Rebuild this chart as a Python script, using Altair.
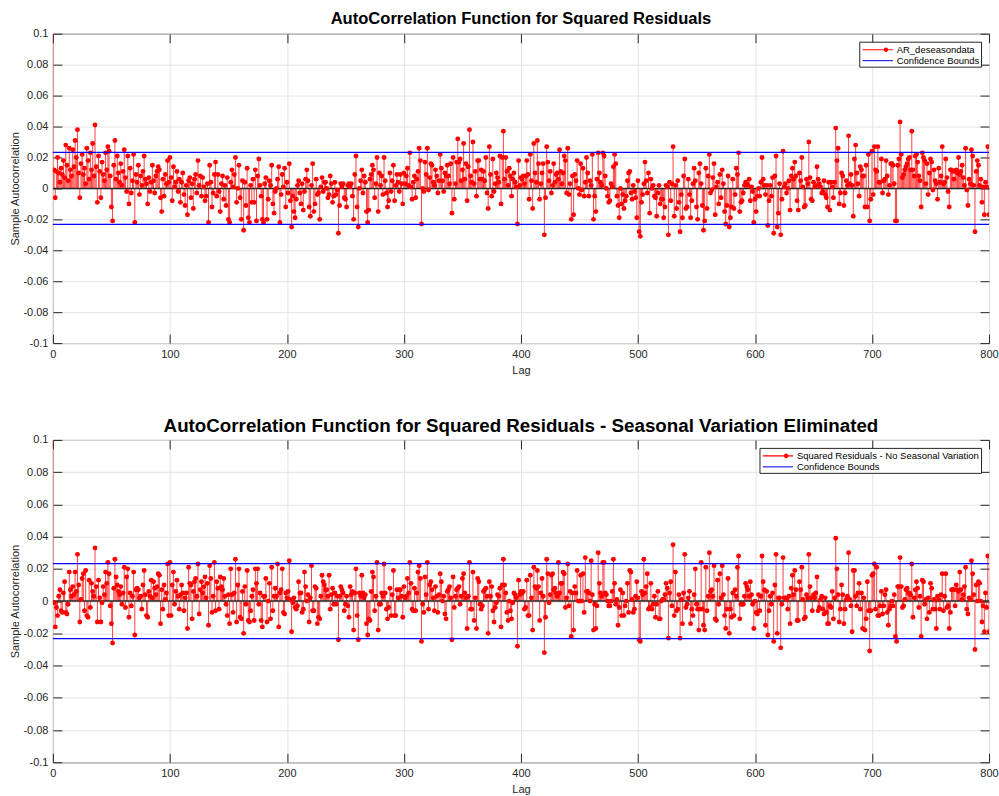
import altair as alt
import pandas as pd

# ---------------- data ----------------
lag_max = 800
x_ticks = [0, 100, 200, 300, 400, 500, 600, 700, 800]
y_ticks = [-0.1, -0.08, -0.06, -0.04, -0.02, 0, 0.02, 0.04, 0.06, 0.08, 0.1]
y_min, y_max = -0.1, 0.1
conf_bounds = [0.0233, -0.0233]
baseline = [0.0]
lag0_value = 1.0  # autocorrelation at lag 0 (clipped at the top)

series1 = "AR_deseasondata"
series2 = "Squared Residuals - No Seasonal Variation"
bound_name = "Confidence Bounds"
title1 = "AutoCorrelation Function for Squared Residuals"
title2 = "AutoCorrelation Function for Squared Residuals - Seasonal Variation Eliminated"

# sample autocorrelation, lags 1..800, in thousandths
acf1_milli = [
    12, -6, 11, 20, 10, 4, 13, 9, 18, 7, 28, 15, 5, 26, 12, 8, 25, 14, 31, 20,
    38, 10, -6, 16, 22, 9, 13, 3, 26, 18, 6, 23, 12, 29, 8, 41, 14, -9, 21, 11,
    -6, 17, 9, 5, 23, 12, 27, 24, 8, -12, -21, 15, 31, 6, 21, 10, 4, 16, 2, 11,
    25, 7, -2, 21, -10, 13, -3, 5, 22, -22, 9, 4, 15, -4, 8, 2, 11, 21, 6, 3,
    -10, 7, -2, 4, 15, 5, -3, 8, 11, 14, 12, -6, -15, 6, -5, 9, 3, 18, 4, 20,
    7, -8, 14, 1, 4, 11, -2, 6, -9, 4, 10, -4, -11, 2, -17, 5, 7, -6, 3, -13,
    6, 9, -3, 18, 2, 8, -5, 7, 1, -8, -5, 3, -22, 15, 4, -12, -3, 9, 17, -5,
    9, -2, -15, 3, 8, -7, 2, -11, 7, -20, -22, 4, 12, 1, 9, 20, -9, 0, 15, -6,
    -20, 5, -27, 4, -11, 13, -19, -22, 2, -9, 6, -9, 12, -21, 8, 19, 2, -5, -20, -22,
    3, 7, -20, -7, 5, 2, 15, -10, -16, -2, 0, 6, 14, -22, -4, 9, 1, 13, -12, 4,
    -3, 16, -8, -25, -5, -15, -19, -7, 2, 5, -3, -10, 3, -14, -2, 6, 12, 5, -12, -18,
    2, 16, -15, -10, 6, -4, -3, -20, 1, 7, -2, 4, 4, 0, -6, -4, 8, 3, -9, -5,
    4, -4, -1, -29, -11, 3, 1, 3, -6, -7, -12, 2, 3, 1, 3, -5, -20, 9, 21, -12,
    -25, 0, 5, 12, -3, 8, 4, -15, -22, -14, 6, 9, 15, 12, -6, 3, 20, -15, 10, 2,
    8, -4, 20, 5, -3, -12, -8, 10, -2, 5, 15, -8, 2, 9, 4, -2, 9, 3, -10, 10,
    3, 8, 13, 2, 23, 1, -7, 4, 8, -6, 6, 11, 26, 18, -23, 0, -2, 17, 9, 26,
    -1, 7, 16, 15, 4, 2, 12, 8, -3, 5, 22, 13, 5, -2, 10, 8, 15, 8, 3, 16,
    -16, 20, -7, 3, 17, 32, 17, 19, 5, 12, 29, 6, 16, -8, 14, 38, 8, 4, 30, 3,
    11, -5, 18, 18, 6, 12, 6, 11, 5, 20, -3, -13, 27, 9, -5, 19, -2, 3, 10, 7,
    4, 21, -10, 20, 37, 6, 20, 11, 2, 13, 8, -5, 6, 10, 4, 1, -23, 18, 2, 7,
    6, 8, 3, 8, 18, 9, -7, 22, 5, -13, 29, 10, 4, 31, 16, -7, 3, 10, 16, -30,
    -6, 27, 17, 5, 11, -3, 2, 16, 4, 9, 10, 6, 25, 11, 3, 10, 21, 18, -3, 26,
    -4, 3, -20, 8, -17, 9, 5, 18, 0, -4, 16, -1, 13, -5, 4, 20, 10, -5, 5, 2,
    22, -20, -5, -15, 6, 23, 10, 4, 2, 23, 21, 8, 0, -5, -9, -8, 3, 1, 14, 22,
    16, -5, -11, -19, 0, -10, -4, -13, -8, -5, 5, 10, 11, -3, -7, 2, -2, -6, -19, 5,
    -28, -31, -9, -4, 3, 17, 5, -3, 10, -16, 6, 0, 2, -5, -6, -18, -3, 2, -10, -7,
    -7, -19, -12, 2, 1, -30, 4, -8, 3, 27, -18, 2, -13, 5, -9, -28, -4, -19, 8, 19,
    -13, -12, 6, -4, -19, -8, 3, 13, 5, -12, -20, 10, 16, 3, -11, -27, -21, 13, -13, 8,
    22, -3, -1, 7, 16, -17, 1, 4, -10, 9, -6, 12, 3, -15, -23, -11, 8, -25, -19, -12,
    6, -13, -4, 13, 9, 23, -15, -9, -8, -3, 2, 4, 3, 2, 6, -8, 1, -2, -22, -7,
    -15, -5, 0, -5, 4, 20, 6, 2, -4, 2, -24, -8, 2, -5, 7, -29, 8, 21, -25, -16,
    3, -30, -7, 24, 1, 3, -3, 0, 5, -14, 8, 13, 6, 17, 8, -8, -14, 10, 5, 20,
    1, -12, -11, 6, 3, 30, 7, -7, -8, 4, 1, 2, 14, 6, 3, 1, -3, -2, 5, -4,
    -6, -12, 4, -14, 4, 1, -6, 4, 39, 18, 26, -10, -3, 10, 8, -11, -3, 5, 2, 34,
    3, 9, 2, -18, 19, 28, 10, 3, -5, 14, 12, 8, 8, -12, 15, -12, 22, -21, -7, 24,
    -4, 27, 12, 11, 27, 4, 4, 19, -3, 5, 6, 18, 8, -4, 2, 16, 16, 15, 3, -21,
    -21, 15, 19, 43, 22, 7, 9, 12, 14, 16, 19, 20, 12, 37, 12, 8, 21, 22, 17, 8,
    5, -12, 23, 20, 18, 3, 16, -4, 10, 19, 17, -1, 12, 5, 3, -7, 13, 4, 8, 27,
    3, 4, 19, 7, -2, -12, 12, 12, 11, 6, 11, 12, 10, 20, 9, 11, 15, 7, 2, 26,
    -1, -11, 6, 3, 25, 21, 2, -28, 11, 18, 15, 2, 6, -9, 1, -17, 4, 1, 27, -17,
]

acf2_milli = [
    -1, -16, -4, -9, 3, 7, -6, -7, 5, 12, -7, -8, -2, 18, 7, 3, 9, 4, 18, 6,
    29, 10, -13, 1, 14, 17, -6, 19, -9, -10, 13, -4, 11, 6, 3, 33, 9, -13, 13, 2,
    -13, -1, 9, 4, 18, 11, 24, 17, -3, -14, -26, 8, 26, 15, 10, 6, 4, 9, -2, 5,
    21, -4, 15, 20, -10, 5, -3, 3, 18, -21, 7, 8, 7, 2, 3, -5, 10, 19, 4, -9,
    -10, 6, 3, 13, 2, 12, 8, 4, 9, 17, 16, -14, 7, -5, 10, 1, 5, 23, -9, 24,
    -9, 10, 18, -2, 6, 13, 3, -5, 4, 10, 5, -6, 2, 5, -17, 21, 11, 10, -11, 6,
    12, 14, 3, 23, -8, 7, 12, 5, 9, 15, 2, 11, -15, 22, 14, -7, 3, 24, -6, 12,
    8, -5, 15, 9, 7, 14, 3, -2, -9, 4, -14, 20, 4, -7, 5, 26, -13, 10, 20, -10,
    -11, 6, -20, 9, -2, 19, -12, -13, -6, 3, 7, -12, 20, 11, 20, -2, 5, -12, -16, 3,
    3, 14, -13, 0, 11, -11, 21, -6, 3, 8, 3, 23, -16, 5, 7, 20, -7, -8, 5, 2,
    6, 25, 1, -19, -1, 2, -4, -5, -3, 12, 5, 5, -7, -5, 18, 9, 0, 4, -13, 2,
    22, -6, -6, 9, 8, -14, -10, -11, 3, 16, 12, 10, 7, 7, 3, 16, -5, 4, 8, -2,
    5, -2, 3, -24, 3, 9, 7, 5, -6, -2, 3, -3, -10, 9, 4, 6, -18, 5, 20, -9,
    -24, 5, 3, 16, 5, 2, 4, -14, -21, -11, -12, 6, 18, 15, -6, 3, 24, -18, -2, -2,
    5, 3, 23, 5, -5, -11, -4, 8, -9, 4, 19, -9, -9, 7, 2, 7, 7, 3, -10, 9,
    2, 3, 14, 5, 24, 11, -5, -6, 8, -6, 5, 18, 22, 14, -25, -2, -7, 15, 4, 24,
    -5, 10, 12, 7, 2, -6, 9, 3, -7, 4, 17, 12, 0, 3, -8, -11, 6, 7, 9, 2,
    -24, 15, -4, 3, 7, 8, 9, -2, 3, 14, 17, 5, 2, -17, 3, 24, -5, -5, 18, -12,
    2, -17, 14, 12, -2, -5, -3, 6, 7, 8, 3, -20, 12, 3, 9, -6, -13, -4, -1, 4,
    3, 8, -16, 10, 26, 10, 5, -7, -12, 0, -6, -11, -1, 5, 4, 2, -28, 13, 4, 6,
    5, 6, -5, -4, 13, -9, -9, 16, 2, -18, 21, 9, 8, 19, 9, -12, 5, 14, 3, -32,
    -10, 26, 17, -1, 4, 16, 17, 7, 8, 5, 3, 24, 5, 11, 11, 18, 17, -4, 2, 23,
    -3, 6, -22, 5, -18, 9, 5, 19, 0, 0, 16, 0, 17, -7, 27, 6, 6, 5, 0, 25,
    4, -18, -2, -17, -3, 30, 11, 5, 3, 24, 24, 5, 4, 0, -3, -3, 0, 6, 26, 11,
    -2, 1, -15, -4, 7, -9, 5, -9, -3, 0, 11, -7, 19, 18, 1, -7, -5, 3, 12, 2,
    -24, -25, 6, 4, 26, 5, 9, 17, -5, -4, 11, -5, -2, 3, -10, -2, 6, -11, -11, 0,
    1, 1, 4, 11, 8, -23, 5, 12, -3, 35, -9, 18, -6, -5, 4, -23, 1, -14, 5, 29,
    -4, -2, 2, 6, -14, -5, -9, 4, 20, -2, -5, -18, -5, 24, -5, -15, -18, 21, -6, 3,
    30, 6, 7, 3, 22, -11, -12, 13, -2, 17, 2, 22, 4, -9, -17, -5, 14, -20, -5, -10,
    5, -9, 7, 3, 21, 28, -11, -2, -2, -2, 3, 11, 9, 7, 3, 12, 4, -2, -17, 0,
    -7, -8, 4, -6, 3, 28, 12, 7, -15, 6, -21, -6, 3, -2, 5, -25, 10, 29, -20, 2,
    2, -29, -2, 27, 2, 2, 1, -5, 3, -14, 8, 16, 4, 19, 7, -12, -12, 12, 7, 21,
    1, -11, -10, 4, 2, 29, 9, 2, -6, 4, 2, 5, 15, -6, -4, 1, 3, -5, -8, 2,
    -7, -14, -14, -3, -4, 6, -11, 2, 39, 20, 4, -13, -5, 10, 4, -14, -5, 1, 3, 30,
    1, -3, -19, 19, 19, 3, -3, 5, 11, -5, 5, -17, 2, -18, -11, 12, -6, -31, -6, 16,
    17, 23, -5, 21, -9, -9, -3, 6, -8, -3, 4, 7, -7, -15, -5, -3, 0, -3, 4, -22,
    -25, 9, 9, 27, 9, -4, -3, 1, 7, 8, 5, 5, 4, 23, -10, 2, 7, 12, 8, -4,
    3, -22, 13, 12, -2, 1, -11, 2, -7, 11, 8, -5, 1, -5, -17, 3, 1, -5, 4, 17,
    -6, 3, 17, -4, -3, -17, -7, 7, 7, 7, -3, 10, 7, 6, 18, 7, 1, 4, 9, 21,
    -5, -8, 2, 1, 25, 17, 4, -30, 10, 0, 12, 11, 0, -13, -3, -19, 5, -4, 28, -19,
]

# ---------------- styling ----------------
FONT = "Liberation Sans"
AXIS_COLOR = "#262626"
GRID_COLOR = "#e3e3e3"
TICK = 9
PLOT_W = 938

Y_LABEL_EXPR = ("datum.value === 0 ? '0' : (datum.value < 0 ? '-' + format(-datum.value, '.2~f')"
                " : format(datum.value, '.2~f'))")

# legend glyphs (filled paths): a thin line with a dot near its right end, and a thin line
LINE_DOT = ("M-0.71,-0.08H2.56V0.08H-0.71Z"
            "M3.2,-0.08H3.95V0.08H3.2Z"
            "M2.53,0a0.35,0.35 0 1,0 0.7,0a0.35,0.35 0 1,0 -0.7,0Z")
LINE_ONLY = "M-0.71,-0.08H3.95V0.08H-0.71Z"


def tick_axis(orient, values):
    return alt.Axis(values=values, orient=orient, offset=-TICK, tickSize=TICK,
                    tickColor=AXIS_COLOR, tickWidth=1, labels=False, grid=False,
                    domain=False, title=None)


def make_panel(milli, series_name, title_text, title_size, title_offset, height):
    values = [lag0_value] + [v / 1000 for v in milli]
    df = pd.DataFrame({"lag": list(range(len(values))), "acf": values})
    bounds_df = pd.DataFrame({"bound": conf_bounds})
    base_df = pd.DataFrame({"y": baseline})
    legend_df = pd.DataFrame({"series": [series_name, bound_name]})

    xs = alt.Scale(domain=[0, lag_max], nice=False, zero=False)
    ys = alt.Scale(domain=[y_min, y_max], nice=False, zero=False)
    color_scale = alt.Scale(domain=[series_name, bound_name],
                            range=["#ff0000", "#0000ff"])
    shape_scale = alt.Scale(domain=[series_name, bound_name],
                            range=[LINE_DOT, LINE_ONLY])

    legend = alt.Legend(
        title=None, orient="top-right", offset=8, padding=1.5, rowPadding=0,
        strokeColor=AXIS_COLOR, fillColor="white",
        labelFont=FONT, labelFontSize=9.5, labelColor="#000000", labelOffset=23,
        labelLimit=400,
        symbolSize=169, symbolStrokeWidth=0, symbolOpacity=1,
    )

    x_label_axis = alt.Axis(values=x_ticks, title="Lag", grid=True, gridColor=GRID_COLOR,
                            ticks=False, domain=False, labelPadding=5, titlePadding=5,
                            format="d", labelFlush=False)
    y_label_axis = alt.Axis(values=y_ticks, title="Sample Autocorrelation", grid=True,
                            gridColor=GRID_COLOR, ticks=False, domain=False,
                            labelPadding=5, titlePadding=2, labelExpr=Y_LABEL_EXPR)

    stems = alt.Chart(df).mark_rule(color="#ff0000", strokeWidth=1, opacity=0.75,
                                    clip=True).encode(
        x=alt.X("lag:Q", scale=xs, axis=x_label_axis),
        y=alt.Y("acf:Q", scale=ys, axis=y_label_axis),
        y2=alt.datum(0),
    )
    zero = alt.Chart(base_df).mark_rule(color=AXIS_COLOR, strokeWidth=1.5).encode(
        x=alt.XDatum(0, scale=xs, axis=tick_axis("top", x_ticks)),
        x2=alt.datum(lag_max),
        y=alt.Y("y:Q", scale=ys, axis=tick_axis("right", y_ticks)),
    )
    points = alt.Chart(df).mark_circle(size=24, color="#ff0000", opacity=1,
                                       clip=True).encode(
        x=alt.X("lag:Q", scale=xs, axis=tick_axis("bottom", x_ticks)),
        y=alt.Y("acf:Q", scale=ys, axis=tick_axis("left", y_ticks)),
    )
    bounds = alt.Chart(bounds_df).mark_rule(color="#0000ff", strokeWidth=1.2,
                                            opacity=1).encode(
        y=alt.Y("bound:Q", scale=ys, axis=None),
    )
    legend_layer = alt.Chart(legend_df).mark_point(filled=True, opacity=0).encode(
        color=alt.Color("series:N", scale=color_scale, legend=legend),
        shape=alt.Shape("series:N", scale=shape_scale, legend=legend),
    )
    return (
        alt.layer(stems, zero, points, bounds, legend_layer)
        .resolve_axis(x="independent", y="independent")
        .properties(width=PLOT_W, height=height,
                    title=alt.Title(title_text, fontSize=title_size,
                                    offset=title_offset))
    )


panel1 = make_panel(acf1_milli, series1, title1, 16.6, 0, 310)
panel2 = make_panel(acf2_milli, series2, title2, 18.8, -2, 323)

chart = (
    alt.vconcat(panel1, panel2, spacing=40)
    .resolve_scale(color="independent", shape="independent")
    .properties(padding={"left": 9, "top": 9, "right": 0, "bottom": 0},
                background="white")
    .configure_view(stroke=AXIS_COLOR, strokeWidth=1)
    .configure_axis(labelFont=FONT, titleFont=FONT, labelFontSize=11, titleFontSize=11,
                    labelColor=AXIS_COLOR, titleColor=AXIS_COLOR,
                    titleFontWeight="normal")
    .configure_title(font=FONT, fontWeight="bold", color="#000000",
                     anchor="middle")
)

chart.save("out.html", embed_options={"renderer": "svg", "actions": False})
